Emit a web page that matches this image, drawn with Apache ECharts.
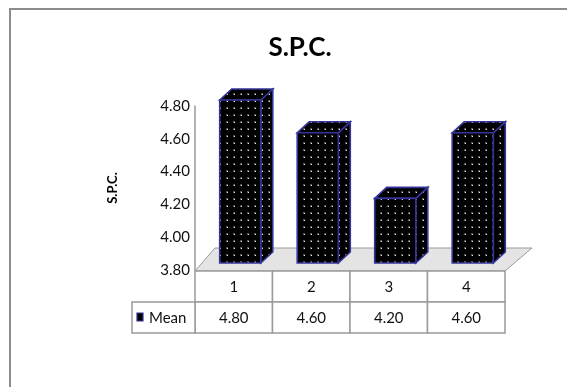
<!DOCTYPE html>
<html>
<head>
<meta charset="utf-8">
<script src="https://cdn.jsdelivr.net/npm/echarts@6/dist/echarts.min.js"></script>
<style>
html, body { margin: 0; padding: 0; background: #fff; }
#main { width: 567px; height: 387px; }
</style>
</head>
<body>
<div id="main"></div>
<script>
var chart = echarts.init(document.getElementById('main'));

var categories = ['1', '2', '3', '4'];
var meanValues = [4.80, 4.60, 4.20, 4.60];
var seriesName = 'Mean';
var yMin = 3.8, yMax = 4.8, yStep = 0.2;

var FONT = 'Lato';
var barEdge = '#34349a';
var gridLine = '#9a9a9a';

// black tile with a light dot, the "dotted" fill of the columns
function dotPattern() {
    var c = document.createElement('canvas');
    c.width = 7; c.height = 7;
    var ctx = c.getContext('2d');
    ctx.fillStyle = '#000';
    ctx.fillRect(0, 0, 7, 7);
    ctx.fillStyle = '#555';
    ctx.fillRect(2, 2, 2, 2);
    ctx.fillStyle = '#e6e6e6';
    ctx.fillRect(3, 3, 1, 1);
    return { image: c, repeat: 'repeat' };
}
var dots = dotPattern();

var barData = meanValues.map(function (v, i) { return [i, v]; });

/*地板*/
function renderFloor(params, api) {
    var cs = params.coordSys;
    var y0 = cs.y + cs.height + 1;
    var x0 = cs.x, x1 = cs.x + cs.width;
    return {
        type: 'polygon',
        shape: { points: [[x0, y0], [x1, y0], [x1 + 27, y0 - 23], [x0 + 20, y0 - 23]] },
        style: { fill: '#e4e4e4', stroke: gridLine, lineWidth: 1 }
    };
}

/*立体柱子*/
function renderBar(params, api) {
    var top = api.coord([api.value(0), api.value(1)]);
    var base = api.coord([api.value(0), yMin]);
    var band = api.size([1, 0])[0];
    var w = band * 0.53;
    var cx = top[0] + 6.5;
    var xl = cx - w / 2, xr = cx + w / 2;
    var yt = top[1] - 6, yb = base[1] - 7;
    var dx = 12, dy = -11;
    var st = { fill: dots, stroke: barEdge, lineWidth: 1.6 };
    return {
        type: 'group',
        children: [
            { type: 'polygon', shape: { points: [[xr, yt], [xr + dx, yt + dy], [xr + dx, yb + dy], [xr, yb]] }, style: st },
            { type: 'polygon', shape: { points: [[xl, yt], [xl + dx, yt + dy], [xr + dx, yt + dy], [xr, yt]] }, style: st },
            { type: 'rect', shape: { x: xl, y: yt, width: w, height: yb - yt }, style: st }
        ]
    };
}

function txtStyle(text, align) {
    return {
        text: text, fontFamily: FONT, fontSize: 15, fill: '#111',
        align: align || 'center', verticalAlign: 'middle'
    };
}

/*数据表*/
function renderTable(params, api) {
    var cs = params.coordSys;
    var c = api.coord([api.value(0), api.value(1)]);
    var band = api.size([1, 0])[0];
    var x0 = c[0] - band / 2;
    var y0 = cs.y + cs.height + 1;
    var rh = 31;
    var cell = { fill: '#fff', stroke: gridLine, lineWidth: 1.5 };
    var kids = [
        { type: 'rect', shape: { x: x0, y: y0, width: band, height: rh }, style: cell },
        { type: 'rect', shape: { x: x0, y: y0 + rh, width: band, height: rh }, style: cell },
        { type: 'text', x: c[0], y: y0 + rh / 2 + 1, style: txtStyle(categories[params.dataIndex]) },
        { type: 'text', x: c[0], y: y0 + rh * 1.5 + 1, style: txtStyle(api.value(1).toFixed(2)) }
    ];
    if (params.dataIndex === 0) {
        var lx = cs.x - 63;
        kids.push(
            { type: 'rect', shape: { x: lx, y: y0 + rh, width: 63, height: rh }, style: cell },
            { type: 'rect', shape: { x: lx + 5, y: y0 + rh + 11, width: 6, height: 8 }, style: { fill: '#000', stroke: barEdge, lineWidth: 1.2 } },
            { type: 'text', x: lx + 17, y: y0 + rh * 1.5 + 1, style: txtStyle(seriesName, 'left') }
        );
    }
    return { type: 'group', children: kids };
}

var option = {
    animation: false,
    title: {
        text: 'S.P.C.',
        left: 295,
        top: 30,
        textAlign: 'center',
        textStyle: { fontFamily: FONT, fontSize: 26, fontWeight: 'bold', color: '#000' }
    },
    graphic: [{
        type: 'rect',
        shape: { x: 10, y: 9, width: 640, height: 420 },
        style: { fill: 'none', stroke: '#8c8c8c', lineWidth: 2 },
        z: -10
    }],
    grid: { left: 195, width: 310, top: 106, height: 164 },
    xAxis: {
        type: 'category',
        data: categories,
        show: false
    },
    yAxis: {
        type: 'value',
        min: yMin,
        max: yMax,
        interval: yStep,
        name: 'S.P.C.',
        nameLocation: 'middle',
        nameRotate: 90,
        nameGap: 76,
        nameTextStyle: { fontFamily: FONT, fontSize: 13, fontWeight: 'bold', color: '#000' },
        axisLine: { show: true, lineStyle: { color: gridLine, width: 1.5 } },
        axisTick: { show: false },
        splitLine: { show: false },
        axisLabel: {
            margin: 5,
            fontFamily: FONT,
            fontSize: 15,
            color: '#111',
            formatter: function (v) { return v.toFixed(2); }
        }
    },
    series: [
        { type: 'custom', name: 'floor', data: [[0, yMin]], renderItem: renderFloor, z: 1, silent: true },
        { type: 'custom', name: seriesName, data: barData, renderItem: renderBar, z: 3 },
        { type: 'custom', name: 'table', data: barData, renderItem: renderTable, z: 2, silent: true }
    ]
};
chart.setOption(option);
</script>
</body>
</html>
